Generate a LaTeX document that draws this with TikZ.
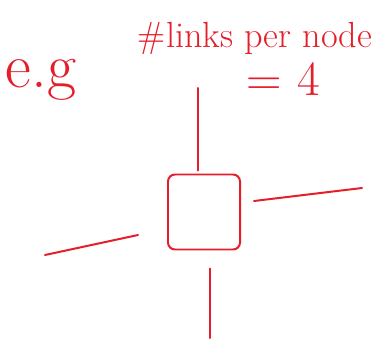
\documentclass[tikz,border=0pt]{standalone}
\usepackage{tikz}
\usetikzlibrary{calc}
\definecolor{inkred}{RGB}{228,30,42}

\begin{document}
\begin{tikzpicture}[x=0.03cm, y=-0.03cm, line width=1.7pt, inkred, line cap=round,
    note/.style={inner sep=0pt, anchor=base west}]
  \useasboundingbox (0,0) rectangle (390,344);
  % labels
  \node[note, font=\fontsize{54}{56}\selectfont] (eg) at (5,88) {e.g};
  \node[note, font=\fontsize{31}{33}\selectfont] (links) at (137,48) {\#links per node};
  \node[note, font=\fontsize{42}{44}\selectfont] (four) at (246,96) {= 4};
  % the node
  \node[draw, rounded corners=6pt, minimum width=2.16cm, minimum height=2.25cm] (box) at (204,212) {};
  % its links
  \coordinate (ntop) at (198,88);
  \coordinate (neast) at (362,188);
  \coordinate (nwest) at (45,255);
  \coordinate (nsouth) at (210,338);
  \draw (ntop) -- ($(ntop |- box.north)+(0,-3)$);
  \draw ($(box.east)+(13,-11)$) -- (neast);
  \draw (nwest) -- ($(box.west)+(-29,23)$);
  \draw ($(nsouth |- box.south)+(0,18)$) -- (nsouth);
\end{tikzpicture}
\end{document}
